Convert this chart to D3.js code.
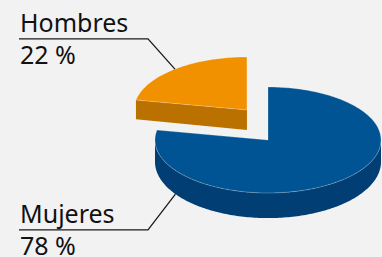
<!DOCTYPE html>
<html>
<head>
<meta charset="utf-8">
<script src="https://cdn.jsdelivr.net/npm/d3@7"></script>
<style>
  html, body { margin: 0; padding: 0; background: #f2f2f2; }
  svg { display: block; }
  text { font-family: "Noto Sans", sans-serif; fill: #111; }
</style>
</head>
<body>
<svg id="chart"></svg>
<script>
// data
var categories = ["Mujeres", "Hombres"];
var values = [78, 22];
var valueLabels = ["78 %", "22 %"];
var exploded = [0, 1];

var width = 382, height = 257;
var cx = 268, cy = 140, rx = 113, ry = 53;
var topColors = ["#005494", "#f29100"];
var sideColors = ["#003e74", "#bb7100"];

var svg = d3.select("#chart").attr("width", width).attr("height", height);

var pie = d3.pie().sort(null).value(function(d) { return d; });
var arcs = pie(values);

// fake perspective: walls get a bit taller towards the front
function depth(y) { return 19.5 + (y - 103) * 0.062; }

function offsetOf(a, i) {
	var m = (a.startAngle + a.endAngle) / 2;
	if (!exploded[i]) return [0, 0];
	return [Math.sin(m) * 33, -Math.cos(m) * 39];
}

function pt(a, o) {
	return [cx + o[0] + rx * Math.sin(a), cy + o[1] - ry * Math.cos(a)];
}
function down(p) { return [p[0], p[1] + depth(p[1])]; }

function rim(a0, a1, o) {
	var n = Math.max(2, Math.ceil(Math.abs(a1 - a0) / 0.02));
	var s = d3.scaleLinear().domain([0, n]).range([a0, a1]);
	return d3.range(n + 1).map(function(k) { return pt(s(k), o); });
}

var line = d3.line();

// back slices first
var order = d3.range(arcs.length).sort(function(a, b) {
	return offsetOf(arcs[a], a)[1] - offsetOf(arcs[b], b)[1];
});

order.forEach(function(i) {
	var a = arcs[i];
	var o = offsetOf(a, i);
	var c = [cx + o[0], cy + o[1]];
	var g = svg.append("g");

	// cut faces
	[[a.startAngle, a.startAngle - Math.PI / 2], [a.endAngle, a.endAngle + Math.PI / 2]].forEach(function(f) {
		if (Math.cos(f[1]) < -0.01) {
			var p = pt(f[0], o);
			g.append("path").attr("d", line([c, p, down(p), down(c)]) + "Z")
				.attr("fill", sideColors[i]);
		}
	});

	// outer wall, front half only
	var w0 = Math.max(a.startAngle, Math.PI / 2), w1 = Math.min(a.endAngle, Math.PI * 1.5);
	if (w1 > w0) {
		var topRim = rim(w0, w1, o);
		var botRim = topRim.map(down).reverse();
		g.append("path").attr("d", line(topRim.concat(botRim)) + "Z")
			.attr("fill", sideColors[i]);
	}

	// top face
	g.append("path").attr("d", line([c].concat(rim(a.startAngle, a.endAngle, o))) + "Z")
		.attr("fill", topColors[i])
		.attr("stroke", "rgba(255,255,255,0.35)").attr("stroke-width", 0.7);
});

// labels with leader lines
var labelBase = [223.3, 32.3];
var anchorAngle = [235 * Math.PI / 180, null];
var elbowX = 148, textX = 20;

arcs.forEach(function(a, i) {
	var o = offsetOf(a, i);
	var ang = anchorAngle[i] == null ? (a.startAngle + a.endAngle) / 2 : anchorAngle[i];
	var p = pt(ang, o);
	if (Math.cos(ang) < 0) p = down(p);
	var yLine = labelBase[i] + 6.5;
	svg.append("path")
		.attr("d", line([[19, yLine], [elbowX, yLine], [p[0], p[1]]]))
		.attr("fill", "none").attr("stroke", "#1a1a1a").attr("stroke-width", 1.3);
	svg.append("text").attr("x", textX).attr("y", labelBase[i])
		.attr("font-size", 25).text(categories[i]);
	svg.append("text").attr("x", textX).attr("y", labelBase[i] + 32)
		.attr("font-size", 25).text(valueLabels[i]);
});
</script>
</body>
</html>
